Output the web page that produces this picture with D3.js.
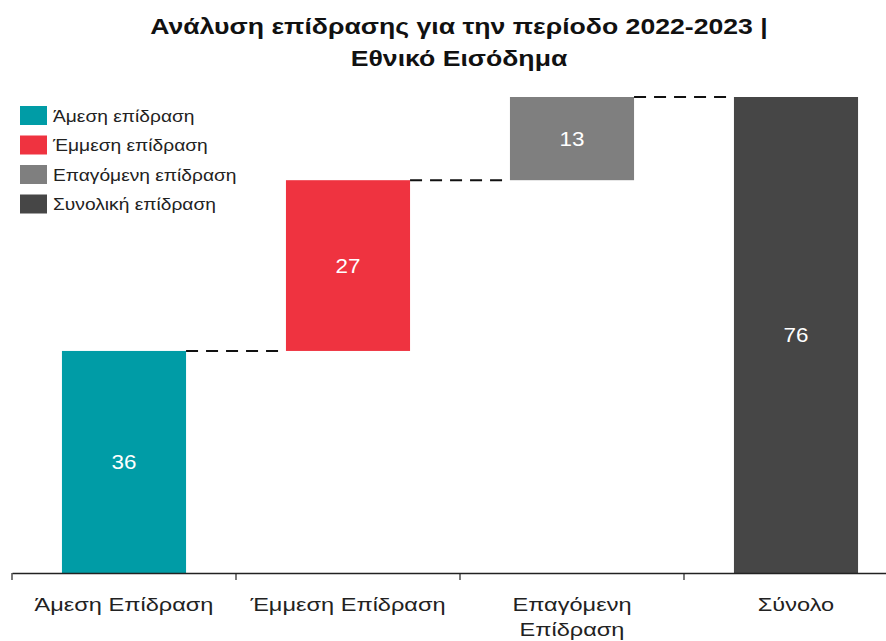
<!DOCTYPE html>
<html>
<head>
<meta charset="utf-8">
<script src="https://cdn.jsdelivr.net/npm/d3@7"></script>
<style>
  body { margin: 0; background: #fff; }
  svg { font-family: "Liberation Sans", Arial, sans-serif; }
</style>
</head>
<body>
<svg id="chart" width="886" height="641"></svg>
<script>
// data
const categories = ["Άμεση Επίδραση", "Έμμεση Επίδραση", "Επαγόμενη Επίδραση", "Σύνολο"];
const values = [35.5, 27.3, 13.3];
const colors = ["#009ca6", "#ef3340", "#7f7f7f", "#464646"];
const legendLabels = ["Άμεση επίδραση", "Έμμεση επίδραση", "Επαγόμενη επίδραση", "Συνολική επίδραση"];
const titleLines = ["Ανάλυση επίδρασης για την περίοδο 2022-2023 |", "Εθνικό Εισόδημα"];

const total = d3.sum(values);

// build waterfall steps
let run = 0;
const steps = values.map((v, i) => {
  const s = { cat: categories[i], start: run, end: run + v, value: v, color: colors[i] };
  run += v;
  return s;
});
steps.push({ cat: categories[3], start: 0, end: total, value: total, color: colors[3] });

const svg = d3.select("#chart");

const x = d3.scaleBand()
  .domain(categories)
  .range([12, 908])
  .paddingInner(0.446)
  .paddingOuter(0.223);

const y = d3.scaleLinear()
  .domain([0, total])
  .range([573, 97]);

// text in the original is a bit wider than Arial, stretch it horizontally
function wideText(parent, tx, ty, sx) {
  return parent.append("g")
    .attr("transform", `translate(${tx},${ty}) scale(${sx},1)`)
    .append("text");
}

// title
titleLines.forEach((t, i) => {
  wideText(svg, 459, 34 + i * 32, 1.21)
    .attr("text-anchor", "middle")
    .style("font-size", "22px").style("font-weight", "bold")
    .style("fill", "#111")
    .text(t);
});

// bars
svg.selectAll(".bar")
  .data(steps)
  .join("rect")
  .attr("class", "bar")
  .attr("x", d => x(d.cat))
  .attr("width", x.bandwidth())
  .attr("y", d => y(d.end))
  .attr("height", d => y(d.start) - y(d.end))
  .style("fill", d => d.color);

// value labels
steps.forEach(d => {
  wideText(svg, x(d.cat) + x.bandwidth() / 2, (y(d.start) + y(d.end)) / 2, 1.12)
    .attr("dy", "0.35em")
    .attr("text-anchor", "middle")
    .style("fill", "#fff")
    .style("font-size", "20px")
    .text(d3.format(".0f")(d.value));
});

// connectors
svg.selectAll(".conn")
  .data(steps.slice(0, -1))
  .join("line")
  .attr("class", "conn")
  .attr("x1", d => x(d.cat) + x.bandwidth())
  .attr("x2", (d, i) => x(categories[i + 1]))
  .attr("y1", d => y(d.end))
  .attr("y2", d => y(d.end))
  .style("stroke", "#111")
  .style("stroke-width", 2)
  .style("stroke-dasharray", "12,8");

// x axis
const xAxis = svg.append("g")
  .attr("transform", "translate(0,573)")
  .call(d3.axisBottom(x).tickSize(0).tickFormat(""));
xAxis.select(".domain").style("stroke", "#222").style("stroke-width", 1.5);

// tick marks at band boundaries
svg.selectAll(".tk")
  .data(categories)
  .join("line")
  .attr("class", "tk")
  .attr("x1", d => x(d) - x.step() * x.paddingInner() / 2)
  .attr("x2", d => x(d) - x.step() * x.paddingInner() / 2)
  .attr("y1", 573).attr("y2", 580)
  .style("stroke", "#222").style("stroke-width", 1.2);

// category labels (wrap long ones)
const wrap = { "Επαγόμενη Επίδραση": ["Επαγόμενη", "Επίδραση"] };
categories.forEach(d => {
  const lines = wrap[d] || [d];
  lines.forEach((l, i) => {
    wideText(svg, x(d) + x.bandwidth() / 2, 611 + i * 25, 1.24)
      .attr("text-anchor", "middle")
      .style("font-size", "19px")
      .style("fill", "#222")
      .text(l);
  });
});

// legend
legendLabels.forEach((d, i) => {
  const g = svg.append("g").attr("transform", `translate(20,${106 + i * 29.5})`);
  g.append("rect")
    .attr("width", 27).attr("height", 19)
    .style("fill", colors[i]);
  wideText(g, 33, 10, 1.2)
    .attr("dy", "0.35em")
    .style("font-size", "16px")
    .style("fill", "#222")
    .text(d);
});
</script>
</body>
</html>
